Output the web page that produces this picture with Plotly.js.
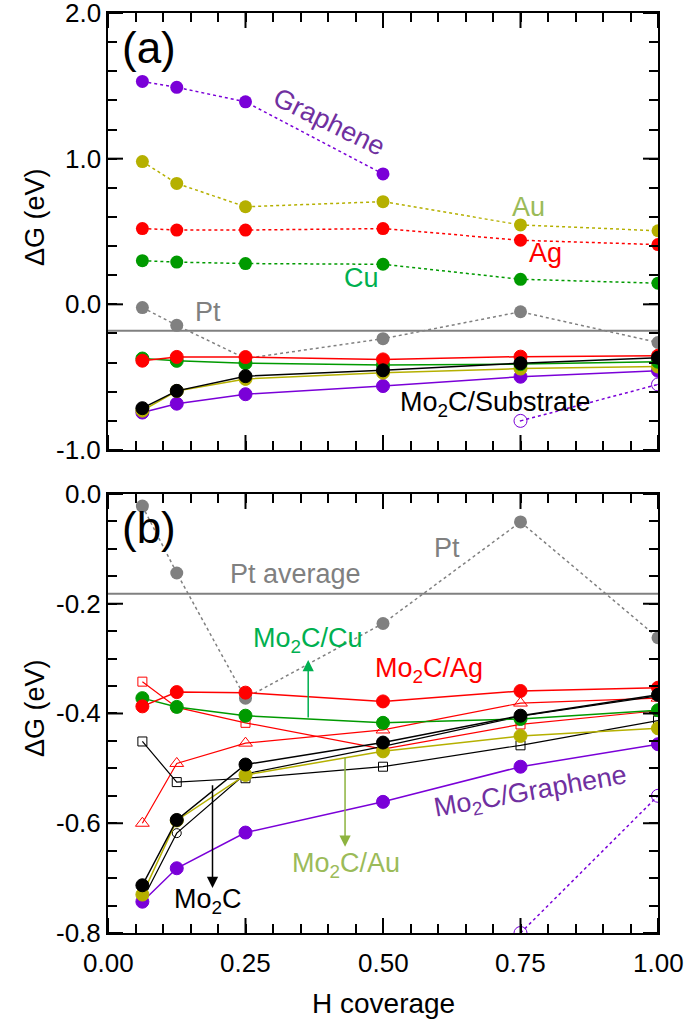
<!DOCTYPE html>
<html>
<head>
<meta charset="utf-8">
<script src="https://cdn.plot.ly/plotly-3.0.1.min.js"></script>
<style>
  body { margin: 0; background: #fff; }
  #chart { width: 685px; height: 1023px; }
</style>
</head>
<body>
<div id="chart"></div>
<script>
// H coverage values shared by every series
var coverage = [0.0625, 0.125, 0.25, 0.5, 0.75, 1.0];
var coverageGr = [0.0625, 0.125, 0.25, 0.5];
var coverageGrOpen = [0.75, 1.0];

// panel (a): bare substrates (dotted)
var graphene = [1.53, 1.49, 1.39, 0.895];
var grapheneOpen = [-0.80, -0.55];
var au = [0.98, 0.83, 0.67, 0.705, 0.545, 0.505];
var ag = [0.52, 0.51, 0.51, 0.52, 0.44, 0.41];
var cu = [0.30, 0.29, 0.28, 0.275, 0.172, 0.145];
var pt = [-0.022, -0.144, -0.372, -0.236, -0.051, -0.262];
var ptAverage = -0.182;

// Mo2C / substrate (solid)
var mo2cAg = [-0.387, -0.361, -0.362, -0.378, -0.359, -0.353];
var mo2cCu = [-0.372, -0.388, -0.404, -0.417, -0.41, -0.394];
var mo2cAu = [-0.73, -0.595, -0.512, -0.469, -0.441, -0.427];
var mo2c = [-0.713, -0.594, -0.493, -0.453, -0.404, -0.366];
var mo2cGr = [-0.743, -0.682, -0.617, -0.561, -0.497, -0.456];

// extra configurations in panel (b), open symbols
var agSquare = [-0.342, -0.389, -0.417, -0.465, -0.42, -0.395];
var agTriangle = [-0.6, -0.491, -0.454, -0.43, -0.381, -0.372];
var mo2cSquare = [-0.451, -0.525, -0.518, -0.497, -0.458, -0.413];
var mo2cCircle = [-0.74, -0.618, -0.51, -0.46, -0.405, -0.368];

// major ticks and their labels
var xTicks = [0, 0.25, 0.5, 0.75, 1];
var xText = ["0.00", "0.25", "0.50", "0.75", "1.00"];
var yTicksA = [-1, 0, 1, 2];
var yTextA = ["-1.0", "0.0", "1.0", "2.0"];
var yTicksB = [-0.8, -0.6, -0.4, -0.2, 0];
var yTextB = ["-0.8", "-0.6", "-0.4", "-0.2", "0.0"];

var PURPLE = "#7a00d8", OLIVE = "#b5b000", RED = "#ff0000", GREEN = "#009a00", GRAY = "#808080";
var FONT = "Liberation Sans, Arial, Helvetica, sans-serif";

function dotted(x, y, color, xa, ya) {
  return { x: x, y: y, xaxis: xa, yaxis: ya, type: "scatter", mode: "lines+markers",
    line: { color: color, width: 1.5, dash: "dot" },
    marker: { color: color, size: 13 }, showlegend: false, hoverinfo: "skip" };
}
function solid(x, y, color, xa, ya, sym, size, lw) {
  return { x: x, y: y, xaxis: xa, yaxis: ya, type: "scatter", mode: "lines+markers",
    line: { color: color, width: lw || 1.5 },
    marker: { color: color, size: size || 13, symbol: sym || "circle",
      line: { color: color, width: 1 } }, showlegend: false, hoverinfo: "skip" };
}
function flat(y, xa, ya) {
  return { x: [0, 1], y: [y, y], xaxis: xa, yaxis: ya, type: "scatter", mode: "lines",
    line: { color: GRAY, width: 2 }, showlegend: false, hoverinfo: "skip" };
}
function openGraphene(xa, ya) {
  var t = dotted(coverageGrOpen, grapheneOpen, PURPLE, xa, ya);
  t.marker = { color: PURPLE, size: 13, symbol: "circle-open-dot", line: { width: 1 } };
  return t;
}

var data = [
  // panel (a) -> x2 / y2
  flat(ptAverage, "x2", "y2"),
  dotted(coverage, pt, GRAY, "x2", "y2"),
  dotted(coverageGr, graphene, PURPLE, "x2", "y2"),
  dotted(coverage, au, OLIVE, "x2", "y2"),
  dotted(coverage, ag, RED, "x2", "y2"),
  dotted(coverage, cu, GREEN, "x2", "y2"),
  openGraphene("x2", "y2"),
  solid(coverage, mo2cGr, PURPLE, "x2", "y2"),
  solid(coverage, mo2cAu, OLIVE, "x2", "y2"),
  solid(coverage, mo2cCu, GREEN, "x2", "y2"),
  solid(coverage, mo2cAg, RED, "x2", "y2"),
  solid(coverage, mo2c, "#000000", "x2", "y2"),

  // panel (b) -> x / y
  flat(ptAverage, "x", "y"),
  dotted(coverage, pt, GRAY, "x", "y"),
  openGraphene("x", "y"),
  solid(coverage, agTriangle, RED, "x", "y", "triangle-up-open", 12, 1.2),
  solid(coverage, agSquare, RED, "x", "y", "square-open", 9, 1.2),
  solid(coverage, mo2cSquare, "#000000", "x", "y", "square-open", 9, 1.2),
  solid(coverage, mo2cCircle, "#000000", "x", "y", "circle-open", 9, 1.2),
  solid(coverage, mo2cGr, PURPLE, "x", "y"),
  solid(coverage, mo2cAu, OLIVE, "x", "y"),
  solid(coverage, mo2cCu, GREEN, "x", "y"),
  solid(coverage, mo2cAg, RED, "x", "y"),
  solid(coverage, mo2c, "#000000", "x", "y")
];

// frame + short ticks (labels are drawn as annotations below)
function frameAxis(range, dtick, extra) {
  var a = {
    range: range, tickmode: "linear", tick0: 0, dtick: dtick,
    showline: true, linecolor: "#000", linewidth: 2, mirror: "allticks",
    ticks: "inside", ticklen: 9, tickwidth: 2, tickcolor: "#000",
    showticklabels: false, showgrid: false, zeroline: false
  };
  for (var k in extra) a[k] = extra[k];
  return a;
}

var rangeX = [0, 1], rangeA = [-1, 2], rangeB = [-0.8, 0];

// long major ticks on all four sides, as pixel-length shapes
var shapes = [];
function xTickMarks(xa, ya, yLow, yHigh) {
  xTicks.forEach(function (v) {
    [[yLow, 15], [yHigh, -15]].forEach(function (s) {
      shapes.push({ type: "line", xref: xa, yref: ya, x0: v, x1: v,
        ysizemode: "pixel", yanchor: s[0], y0: 0, y1: s[1],
        line: { color: "#000", width: 2 }, layer: "above" });
    });
  });
}
function yTickMarks(xa, ya, vals) {
  vals.forEach(function (v) {
    [[0, 15], [1, -15]].forEach(function (s) {
      shapes.push({ type: "line", xref: xa, yref: ya, y0: v, y1: v,
        xsizemode: "pixel", xanchor: s[0], x0: 0, x1: s[1],
        line: { color: "#000", width: 2 }, layer: "above" });
    });
  });
}
xTickMarks("x", "y", rangeB[0], rangeB[1]);
xTickMarks("x2", "y2", rangeA[0], rangeA[1]);
yTickMarks("x", "y", yTicksB);
yTickMarks("x2", "y2", yTicksA);

function label(text, x, y, color, size, axes, angle) {
  return { text: text, x: x, y: y, xref: axes[0], yref: axes[1], showarrow: false,
    textangle: angle || 0, font: { family: FONT, size: size, color: color } };
}
function arrow(x, yTail, yHead, color, axes) {
  return { text: "", x: x, y: yHead, ax: x, ay: yTail, xref: axes[0], yref: axes[1],
    axref: axes[0], ayref: axes[1], showarrow: true, arrowhead: 2, arrowsize: 1.5,
    arrowwidth: 1.5, arrowcolor: color, standoff: 0, startstandoff: 0 };
}

var A = ["x2", "y2"], B = ["x", "y"];
var annotations = [
  label("(a)", 0.075, 1.76, "#000", 44, A),
  label("Graphene", 0.402, 1.25, "#7030a0", 27, A, 26),
  label("Au", 0.764, 0.668, "#9bbb59", 27, A),
  label("Ag", 0.795, 0.35, RED, 27, A),
  label("Cu", 0.46, 0.181, "#00b050", 27, A),
  label("Pt", 0.182, -0.052, GRAY, 27, A),
  label("Mo<sub>2</sub>C/Substrate", 0.704, -0.684, "#000", 27, A),

  label("(b)", 0.075, -0.062, "#000", 44, B),
  label("Pt average", 0.34, -0.146, GRAY, 27, B),
  label("Pt", 0.617, -0.098, GRAY, 27, B),
  label("Mo<sub>2</sub>C/Cu", 0.364, -0.266, "#00b050", 27, B),
  label("Mo<sub>2</sub>C/Ag", 0.584, -0.321, RED, 27, B),
  label("Mo<sub>2</sub>C/Graphene", 0.768, -0.545, "#7030a0", 27, B, -10),
  label("Mo<sub>2</sub>C/Au", 0.433, -0.676, "#9bbb59", 27, B),
  label("Mo<sub>2</sub>C", 0.182, -0.742, "#000", 27, B),
  arrow(0.364, -0.41, -0.3025, "#00b050", B),
  arrow(0.431, -0.477, -0.643, "#8db33f", B),
  arrow(0.19, -0.528, -0.718, "#000", B)
];

// tick labels and axis titles
var tickFont = { family: FONT, size: 26, color: "#000" };
xTicks.forEach(function (v, i) {
  annotations.push({ text: xText[i], x: v, y: rangeB[0], xref: "x", yref: "y",
    xanchor: "center", yanchor: "top", yshift: -13, showarrow: false, font: tickFont });
});
yTicksB.forEach(function (v, i) {
  annotations.push({ text: yTextB[i], x: 0, y: v, xref: "x", yref: "y",
    xanchor: "right", yanchor: "middle", xshift: -5, showarrow: false, font: tickFont });
});
yTicksA.forEach(function (v, i) {
  annotations.push({ text: yTextA[i], x: 0, y: v, xref: "x2", yref: "y2",
    xanchor: "right", yanchor: "middle", xshift: -5, showarrow: false, font: tickFont });
});
annotations.push({ text: "H coverage", x: 0.5, y: rangeB[0], xref: "x", yref: "y",
  xanchor: "center", yanchor: "top", yshift: -53, showarrow: false,
  font: { family: FONT, size: 28, color: "#000" } });
annotations.push({ text: "ΔG (eV)", x: 0, y: -0.39, xref: "x", yref: "y",
  xanchor: "center", yanchor: "middle", xshift: -73, textangle: -90, showarrow: false,
  font: { family: FONT, size: 27, color: "#000" } });
annotations.push({ text: "ΔG (eV)", x: 0, y: 0.6, xref: "x2", yref: "y2",
  xanchor: "center", yanchor: "middle", xshift: -73, textangle: -90, showarrow: false,
  font: { family: FONT, size: 27, color: "#000" } });

var layout = {
  width: 685, height: 1023,
  margin: { l: 108, r: 27, t: 13, b: 90 },
  paper_bgcolor: "#fff", plot_bgcolor: "#fff",
  font: { family: FONT, color: "#000" },
  // panel (b)
  xaxis: frameAxis(rangeX, 0.05, { domain: [0, 1], anchor: "y" }),
  yaxis: frameAxis(rangeB, 0.05, { domain: [0, 0.4772], anchor: "x" }),
  // panel (a)
  xaxis2: frameAxis(rangeX, 0.05, { domain: [0, 1], anchor: "y2" }),
  yaxis2: frameAxis(rangeA, 0.2, { domain: [0.525, 1], anchor: "x2" }),
  shapes: shapes,
  annotations: annotations
};

Plotly.newPlot("chart", data, layout, { staticPlot: true });
</script>
</body>
</html>
